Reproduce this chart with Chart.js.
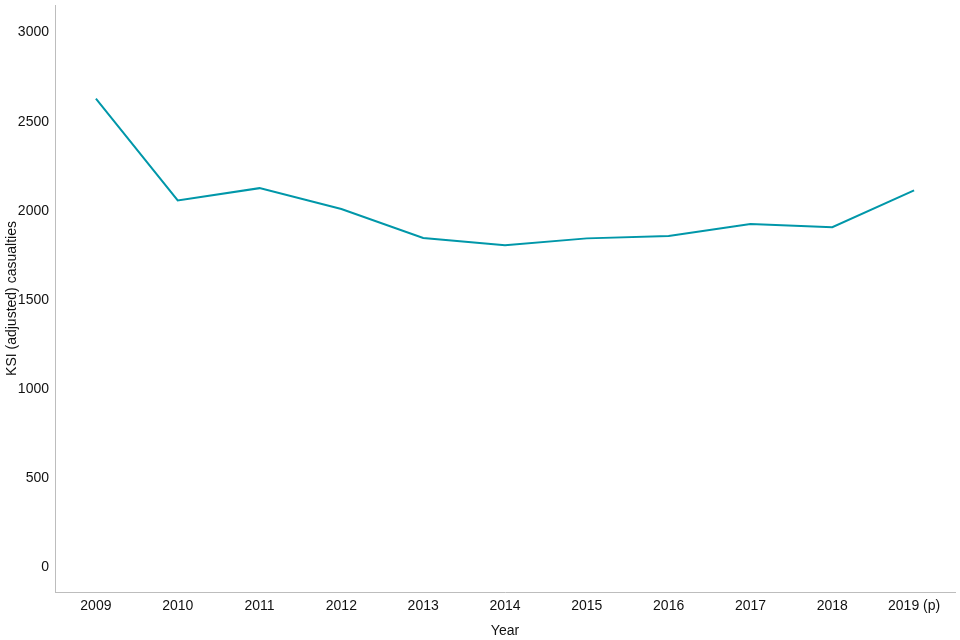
<!DOCTYPE html>
<html>
<head>
<meta charset="utf-8">
<script src="https://cdn.jsdelivr.net/npm/chart.js@4.4.0/dist/chart.umd.min.js"></script>
<style>
  html, body { margin: 0; padding: 0; background: #fff; }
  #wrap { width: 960px; height: 640px; }
</style>
</head>
<body>
<div id="wrap"><canvas id="ksiChart" width="960" height="640"></canvas></div>
<script>
// Data
const years = ['2009', '2010', '2011', '2012', '2013', '2014', '2015', '2016', '2017', '2018', '2019 (p)'];
const ksiValues = [2630, 2058, 2127, 2010, 1847, 1807, 1845, 1858, 1925, 1908, 2114];
const yTicks = [0, 500, 1000, 1500, 2000, 2500, 3000];

const font = { family: '"Liberation Sans", Arial, sans-serif', size: 14 };
const axisGrey = '#bdbdbd';

new Chart(document.getElementById('ksiChart'), {
    type: 'line',
    data: {
        labels: years,
        datasets: [{
            data: ksiValues,
            borderColor: '#0097a9',
            borderWidth: 2,
            pointRadius: 0,
            tension: 0,
            fill: false
        }]
    },
    options: {
        responsive: false,
        animation: false,
        layout: { padding: { top: 5, right: 5, left: 0, bottom: 0 } },
        plugins: {
            legend: { display: false },
            tooltip: { enabled: false }
        },
        scales: {
            x: {
                type: 'category',
                offset: true,
                grid: { color: 'rgba(0,0,0,0)', drawTicks: false },
                border: { color: axisGrey, width: 1 },
                ticks: { color: '#111', font: font, padding: 6, maxRotation: 0, autoSkip: false },
                title: { display: true, text: 'Year', color: '#111', font: font, padding: { top: 2, bottom: 0 } },
                afterFit: (scale) => { scale.height = 48; scale.paddingLeft = 0; scale.paddingRight = 0; }
            },
            y: {
                min: -140,
                max: 3155,
                grid: { color: 'rgba(0,0,0,0)', drawTicks: false },
                border: { color: axisGrey, width: 1 },
                afterBuildTicks: (scale) => { scale.ticks = yTicks.map(v => ({ value: v })); },
                ticks: { color: '#111', font: font, padding: 6, callback: (v) => String(v) },
                title: { display: true, text: 'KSI (adjusted) casualties', color: '#111', font: font, padding: { top: 4, bottom: 0 } },
                afterFit: (scale) => { scale.width = 55; scale.paddingTop = 0; scale.paddingBottom = 0; }
            }
        }
    }
});
</script>
</body>
</html>
